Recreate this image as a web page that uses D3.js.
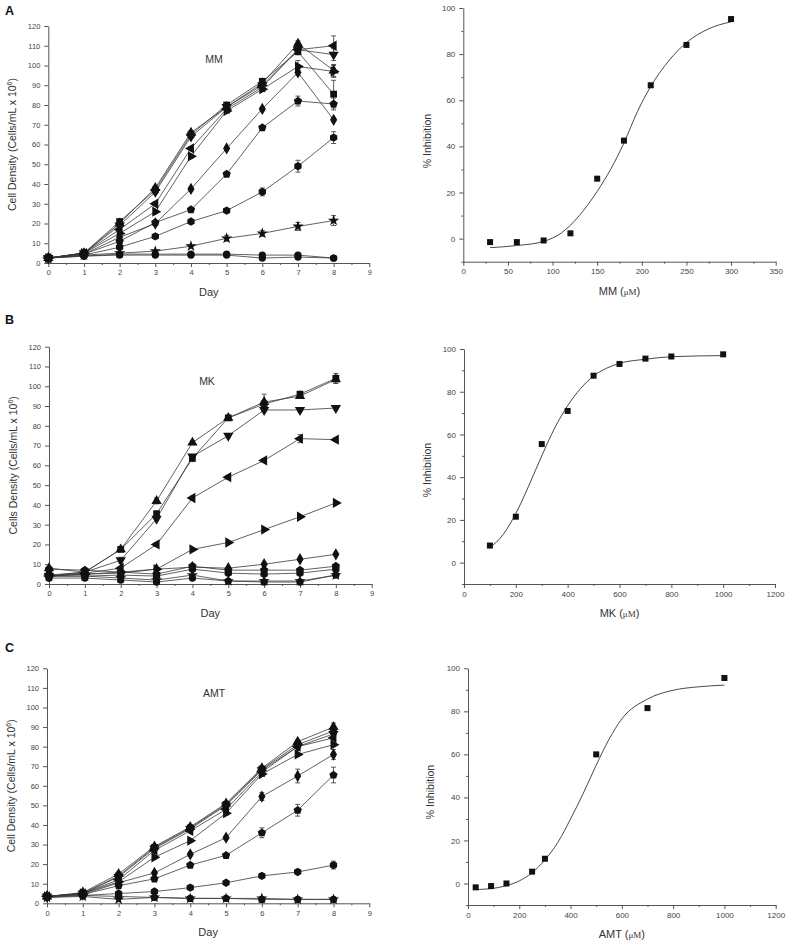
<!DOCTYPE html>
<html><head><meta charset="utf-8">
<script src="https://cdn.jsdelivr.net/npm/d3@7"></script>
<style>body{margin:0;background:#fff}svg{display:block;font-family:Arial,"Liberation Sans",sans-serif}</style>
</head><body><svg id="c" width="793" height="945"></svg>
<script>
// ---------- DATA ----------
const days = [0,1,2,3,4,5,6,7,8];
const dayTicks = [0,1,2,3,4,5,6,7,8,9];
const densityTicks = [0,10,20,30,40,50,60,70,80,90,100,110,120];
const inhibTicks = [0,20,40,60,80,100];
const symbolOrder = ["square","triUp","triDown","triLeft","triRight","diamond","pentagon","hexagon","star","circle","circle"];

// Panel A: MM growth curves (cells/mL x 10^6)
const mmValues = [
  [2.5,5,21,37,65,80,92,107,85.5],
  [2.5,5,20,38,66,79,91,111,97.5],
  [2.5,5,19,36,64,79,90,108,105.5],
  [2.5,5,17,30,58,78,89,108,110],
  [2.5,5,15,26,54,77,88,99.5,97],
  [2.5,4.5,13,20,37.5,58,78,96.5,72.5],
  [2.5,4.5,11,20.5,27,45,68.5,82,80.5],
  [2.5,4,8,13.5,21,26.5,36,49,63.5],
  [2.5,4,5,6,8.5,12.5,15,18.5,21.5],
  [2.5,3.5,4.5,4.5,4.5,4.5,4,4,2.5],
  [2.5,3.5,4,4,4,4,2.5,3,2.5]
];
const mmErrors = [
  [0.5,0.5,1,1,1,1,1.2,1.5,7],
  [0.5,0.5,1,1,1,1,1,1.5,3],
  [0.5,0.5,1,1,1,1,1,1.5,3],
  [0.5,0.5,1,1,1,1,1,1.5,5],
  [0.5,0.5,1,1,1,1,1,3,3],
  [0.5,0.5,1,1,1,1,1,1.5,1],
  [0.5,0.5,1,1,1,1,1,2.5,3],
  [0.5,0.5,1,1,1,1,2,3,3],
  [0.5,0.5,0.5,0.5,0.5,1.5,1.5,2,2.5],
  [0.5,0.5,0.5,0.5,0.5,0.5,0.5,0.5,0.5],
  [0.5,0.5,0.5,0.5,0.5,0.5,0.5,0.5,0.5]
];
// Panel B: MK growth curves
const mkValues = [
  [4.5,6,17.5,35.5,63.5,84,91,96,104],
  [8,6,17.5,42,71.5,84,92,95,103.5],
  [4,6,12,33,64.5,75,88,88,89],
  [4,5.5,8,20,43.5,54,62.5,73.5,73],
  [4,5,6,7.5,17.5,21,27.5,34,41],
  [4,5,5.5,7.5,8.5,8,10,12.5,15],
  [7.5,7,6,5,9,7,7,7,9],
  [4,4,4.5,4,7.5,5.5,5,5.5,7.5],
  [4,4,3,2,4.5,1.5,1.5,1.5,4.5],
  [3,3,2,1,3,1.5,1,1,4.5]
];
const mkErrors = [
  [0.5,0.5,1,1.5,1,1,1,1,2.5],
  [0.5,0.5,1,1.5,1,1,4,1,2],
  [0.5,0.5,1.5,1,1,1,1,1,1],
  [0.5,0.5,1,1,1,1,1,2,1],
  [0.5,0.5,0.5,0.5,0.5,0.5,0.5,0.5,0.5],
  [0.5,0.5,0.5,0.5,0.5,0.5,0.5,0.5,0.5],
  [0.5,0.5,0.5,0.5,0.5,0.5,0.5,0.5,0.5],
  [0.5,0.5,0.5,0.5,0.5,0.5,0.5,0.5,0.5],
  [0.5,0.5,0.5,0.5,0.5,0.5,0.5,0.5,0.5],
  [0.5,0.5,0.5,0.5,0.5,0.5,0.5,0.5,0.5]
];
// Panel C: AMT growth curves
const amtValues = [
  [3.5,5,14,28.5,38.5,50.5,68.5,81,88],
  [3.5,5.5,15,29,39,51,69,82.5,90],
  [3.5,5,13.5,28,38,50,68,80,86.5],
  [3.5,5,12,27,37,48,67,80,84.5],
  [3.5,5,11,23.5,32,46,66,76,81],
  [3.5,4.5,10.5,15.5,25,33.5,54.5,65,76],
  [3.5,4.5,9,12.5,19.5,24.5,36,47.5,65.5],
  [3.5,4,5,6,8,10.5,14,16,19.5],
  [3,3.5,2,3,2.5,2.5,2.5,2,2],
  [3,4,3.5,3,2.5,2.5,2,2,2]
];
const amtErrors = [
  [0.5,0.5,1,1,1,1,1,1,2],
  [0.5,0.5,1,1,1,1,1,1,2],
  [0.5,0.5,1,1,1,1,1,1,1],
  [0.5,0.5,1,1,1,1,1,1,1],
  [0.5,0.5,1,1,1,1,1,1,1],
  [0.5,0.5,1,1,1,1,2,3.5,2.5],
  [0.5,0.5,1,1,1,1,2.5,3,4],
  [0.5,0.5,0.5,0.5,0.5,0.5,1,1,2],
  [0.5,0.5,0.5,0.5,0.5,0.5,0.5,0.5,0.5],
  [0.5,0.5,0.5,0.5,0.5,0.5,0.5,0.5,0.5]
];

// Dose–response panels (% inhibition)
const mmDose = [30,60,90,120,150,180,210,250,300];
const mmInhib = [-1.5,-1.5,-0.8,2.3,26,42.5,66.5,84,95.2];
const mmFitX = [30,60,90,110,130,150,165,180,195,210,230,250,275,300];
const mmFitY = [-3.9,-3.0,-1.2,2.5,10,20.5,30,41.5,55,66,77,85,91,94];
const mmXTicks = [0,50,100,150,200,250,300,350];

const mkDose = [100,200,300,400,500,600,700,800,1000];
const mkInhib = [8,21.5,55.5,71,87.5,93,95.5,96.5,97.5];
const mkFitX = [100,150,200,250,300,350,400,450,500,550,600,700,800,1000];
const mkFitY = [7,13,23,36,50,63,73.5,81.5,87.4,91,93.3,95.2,96.4,96.9];

const amtDose = [30,90,150,250,300,500,700,1000];
const amtInhib = [-1.8,-1.2,0,5.5,11.5,60,81.5,95.5];
const amtFitX = [30,90,150,200,250,300,350,400,450,500,550,600,700,800,900,1000];
const amtFitY = [-2.8,-2.4,-1,1.2,5,11,19,30,42,55,67,76.5,85.7,89.8,91.4,92.2];
const kXTicks = [0,200,400,600,800,1000,1200];

// ---------- DRAWING ----------
const svg = d3.select("#c");
const AX = "#555", TXT = "#444";

function polygon(n){
  return {draw(ctx,size){
    const r = Math.sqrt(size/(n/2*Math.sin(2*Math.PI/n)));
    for(let i=0;i<n;i++){
      const a = -Math.PI/2 + i*2*Math.PI/n;
      if(i===0) ctx.moveTo(r*Math.cos(a), r*Math.sin(a)); else ctx.lineTo(r*Math.cos(a), r*Math.sin(a));
    }
    ctx.closePath();
  }};
}
const symDefs = {
  square:{t:d3.symbolSquare,s:46,r:0},
  triUp:{t:d3.symbolTriangle,s:46,r:0},
  triDown:{t:d3.symbolTriangle,s:46,r:180},
  triLeft:{t:d3.symbolTriangle,s:46,r:-90},
  triRight:{t:d3.symbolTriangle,s:46,r:90},
  diamond:{t:d3.symbolDiamond,s:44,r:0},
  pentagon:{t:polygon(5),s:46,r:0},
  hexagon:{t:polygon(6),s:46,r:0},
  star:{t:d3.symbolStar,s:40,r:0},
  circle:{t:d3.symbolCircle,s:42,r:0}
};

function axisStyle(g, fs){
  g.selectAll("path.domain").attr("stroke",AX).attr("stroke-width",1);
  g.selectAll(".tick line").attr("stroke",AX);
  g.selectAll(".tick text").attr("fill",TXT).attr("font-size",fs);
}

function drawGrowth(cfg){
  const x = d3.scaleLinear().domain([0,9]).range([cfg.x0,cfg.x1]);
  const y = d3.scaleLinear().domain([0,120]).range([cfg.y0,cfg.y1]);
  const g = svg.append("g");
  const gxm = g.append("g").attr("transform",`translate(0,${cfg.y0})`)
    .call(d3.axisBottom(x).tickValues(d3.range(0.5,9,1)).tickSize(2).tickFormat(""));
  gxm.select("path.domain").remove(); gxm.selectAll("line").attr("stroke",AX);
  const gx = g.append("g").attr("transform",`translate(0,${cfg.y0})`)
    .call(d3.axisBottom(x).tickValues(dayTicks).tickSize(4).tickSizeOuter(0).tickPadding(3).tickFormat(d3.format("d")));
  axisStyle(gx,"7.5px");
  const gy = g.append("g").attr("transform",`translate(${cfg.x0},0)`)
    .call(d3.axisLeft(y).tickValues(densityTicks).tickSize(4).tickSizeOuter(0).tickPadding(4));
  axisStyle(gy,"7.5px");

  const line = d3.line().x((d,i)=>x(days[i])).y(d=>y(d));
  cfg.values.forEach((vals)=>{
    g.append("path").attr("d",line(vals)).attr("fill","none").attr("stroke","#3a3a3a").attr("stroke-width",0.8);
  });
  cfg.values.forEach((vals,si)=>{
    const errs = cfg.errors[si];
    vals.forEach((v,i)=>{
      const e = errs[i];
      if(e>=1){
        const cx = x(days[i]);
        g.append("path").attr("d",`M${cx},${y(v+e)}V${y(v-e)}M${cx-2.5},${y(v+e)}H${cx+2.5}M${cx-2.5},${y(v-e)}H${cx+2.5}`)
          .attr("stroke","#333").attr("stroke-width",0.8).attr("fill","none");
      }
    });
  });
  cfg.values.forEach((vals,si)=>{
    const sd = symDefs[symbolOrder[si]];
    const sym = d3.symbol().type(sd.t).size(sd.s);
    g.selectAll(null).data(vals).join("path")
      .attr("d",sym)
      .attr("transform",(d,i)=>`translate(${x(days[i])},${y(d)}) rotate(${sd.r})`)
      .attr("fill","#111");
  });

  g.append("text").attr("x",cfg.labelX).attr("y",cfg.labelY).attr("text-anchor","middle")
    .attr("font-size","10.5px").attr("fill","#333").text(cfg.name);
  g.append("text").attr("x",(cfg.x0+cfg.x1)/2).attr("y",cfg.y0+33).attr("text-anchor","middle")
    .attr("font-size","11px").attr("fill","#333").text("Day");
  const yt = g.append("text").attr("transform",`translate(${cfg.titleX},${(cfg.y0+cfg.y1)/2}) rotate(-90)`)
    .attr("text-anchor","middle").attr("font-size","10.5px").attr("fill","#333");
  yt.append("tspan").text(cfg.yTitle + " (Cells/mL x 10");
  yt.append("tspan").attr("font-size","7px").attr("dy","-4").text("6");
  yt.append("tspan").attr("dy","4").text(")");
  svg.append("text").attr("x",cfg.letterX).attr("y",cfg.letterY).attr("font-size","12.5px")
    .attr("font-weight","bold").attr("fill","#111").text(cfg.letter);
}

function drawDose(cfg){
  const x = d3.scaleLinear().domain([0,cfg.xMax]).range([cfg.x0,cfg.x1]);
  const y = d3.scaleLinear().domain([-10,100]).range([cfg.y0,cfg.y1]);
  const g = svg.append("g");
  const step = cfg.xTicks[1]-cfg.xTicks[0];
  const gxm = g.append("g").attr("transform",`translate(0,${cfg.y0})`)
    .call(d3.axisBottom(x).tickValues(d3.range(step/2,cfg.xMax,step)).tickSize(2).tickFormat(""));
  gxm.select("path.domain").remove(); gxm.selectAll("line").attr("stroke",AX);
  const gym = g.append("g").attr("transform",`translate(${cfg.x0},0)`)
    .call(d3.axisLeft(y).tickValues([-10,10,30,50,70,90]).tickSize(2).tickFormat(""));
  gym.select("path.domain").remove(); gym.selectAll("line").attr("stroke",AX);
  const gx = g.append("g").attr("transform",`translate(0,${cfg.y0})`)
    .call(d3.axisBottom(x).tickValues(cfg.xTicks).tickSize(4).tickSizeOuter(0).tickPadding(3).tickFormat(d3.format("d")));
  axisStyle(gx,"8px");
  const gy = g.append("g").attr("transform",`translate(${cfg.x0},0)`)
    .call(d3.axisLeft(y).tickValues(inhibTicks).tickSize(4).tickSizeOuter(0).tickPadding(4));
  axisStyle(gy,"8px");

  const line = d3.line().x((d,i)=>x(cfg.fitX[i])).y(d=>y(d)).curve(d3.curveMonotoneX);
  g.append("path").attr("d",line(cfg.fitY)).attr("fill","none").attr("stroke","#333").attr("stroke-width",0.9);
  g.selectAll(null).data(cfg.inhib).join("rect")
    .attr("x",(d,i)=>x(cfg.dose[i])-3).attr("y",d=>y(d)-3).attr("width",6).attr("height",6).attr("fill","#111");

  const xt = g.append("text").attr("x",(cfg.x0+cfg.x1)/2).attr("y",cfg.y0+33).attr("text-anchor","middle")
    .attr("font-size","11px").attr("fill","#333");
  xt.append("tspan").text(cfg.name + " (");
  xt.append("tspan").attr("font-family","'Liberation Serif','DejaVu Serif',serif").attr("font-size","9px").text("μM");
  xt.append("tspan").text(")");
  g.append("text").attr("transform",`translate(${cfg.titleX},${cfg.titleY}) rotate(-90)`)
    .attr("text-anchor","middle").attr("font-size","10.5px").attr("fill","#333").text("% Inhibition");
}

drawGrowth({x0:48.3,x1:369.3,y0:263,y1:26,values:mmValues,errors:mmErrors,name:"MM",labelX:214,labelY:63,
  titleX:16,yTitle:"Cell Density",letter:"A",letterX:5,letterY:15});
drawGrowth({x0:49,x1:371.7,y0:584,y1:346.7,values:mkValues,errors:mkErrors,name:"MK",labelX:207,labelY:385,
  titleX:17,yTitle:"Cells Density",letter:"B",letterX:5,letterY:324});
drawGrowth({x0:47,x1:369.3,y0:903.3,y1:668.3,values:amtValues,errors:amtErrors,name:"AMT",labelX:214,labelY:697,
  titleX:15,yTitle:"Cell Density",letter:"C",letterX:5,letterY:652});

drawDose({x0:463.3,x1:775.7,y0:261.7,y1:8,xMax:350,xTicks:mmXTicks,dose:mmDose,inhib:mmInhib,fitX:mmFitX,fitY:mmFitY,
  name:"MM",titleX:431,titleY:141});
drawDose({x0:464,x1:775,y0:584,y1:349,xMax:1200,xTicks:kXTicks,dose:mkDose,inhib:mkInhib,fitX:mkFitX,fitY:mkFitY,
  name:"MK",titleX:431,titleY:470});
drawDose({x0:468,x1:775.7,y0:905,y1:668.3,xMax:1200,xTicks:kXTicks,dose:amtDose,inhib:amtInhib,fitX:amtFitX,fitY:amtFitY,
  name:"AMT",titleX:434,titleY:792});
</script></body></html>
